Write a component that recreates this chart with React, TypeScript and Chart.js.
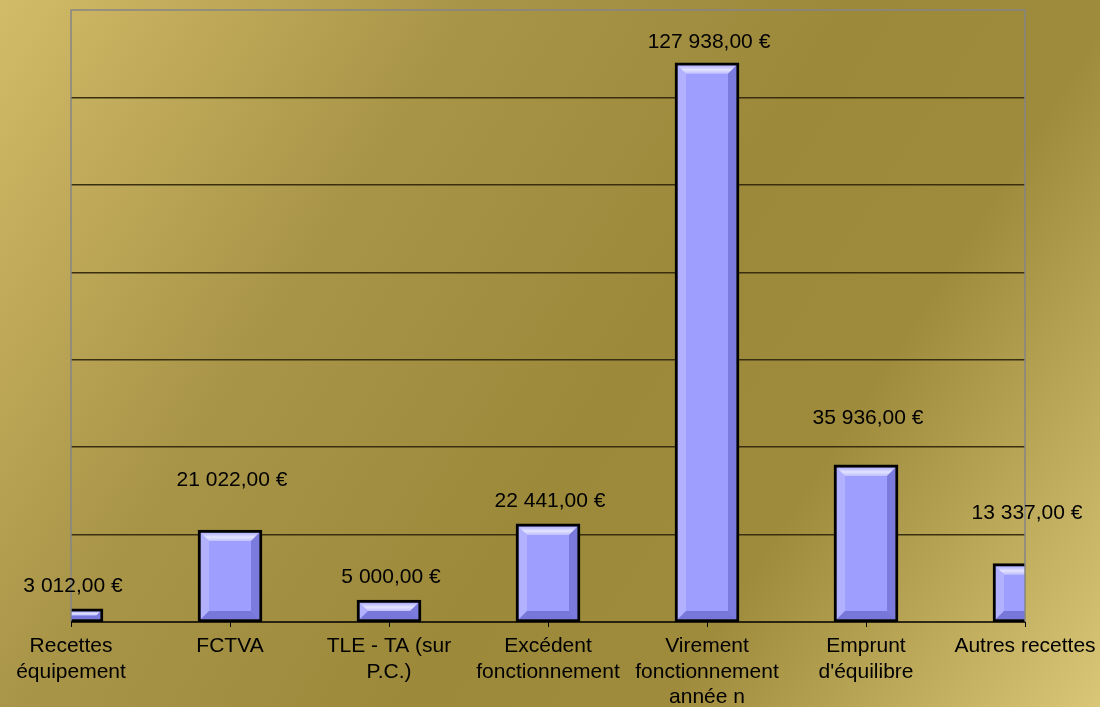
import React, { useEffect, useRef } from "react";
import { Chart, registerables } from "chart.js";

Chart.register(...registerables);

const categories: (string | string[])[] = [
  ["Recettes", "équipement"],
  "FCTVA",
  ["TLE - TA (sur", "P.C.)"],
  ["Excédent", "fonctionnement"],
  ["Virement", "fonctionnement", "année n"],
  ["Emprunt", "d'équilibre"],
  "Autres recettes",
];
const values = [3012, 21022, 5000, 22441, 127938, 35936, 13337];
const yMax = 140000;
const yStep = 20000;
// vertical gap (px) between bar top and its value label, as placed in the original
const labelLift = [23, 50, 23, 23, 21, 47, 50];

const FONT = '"Liberation Sans", Arial, sans-serif';

function formatEuro(v: number): string {
  const [intPart, dec] = v.toFixed(2).split(".");
  const grouped = intPart.replace(/\B(?=(\d{3})+(?!\d))/g, " ");
  return `${grouped},${dec} €`;
}

const backgroundPlugin = {
  id: "bgGradient",
  beforeDraw(chart: any) {
    const { ctx, width, height } = chart;
    ctx.save();
    const g = ctx.createLinearGradient(0, 0, width, height);
    g.addColorStop(0, "#D2BB68");
    g.addColorStop(0.3, "#A99548");
    g.addColorStop(0.55, "#9C893A");
    g.addColorStop(0.72, "#9F8B3C");
    g.addColorStop(1, "#DAC677");
    ctx.fillStyle = g;
    ctx.fillRect(0, 0, width, height);
    ctx.restore();
  },
};

const frameAndBevelPlugin = {
  id: "frameBevel",
  afterDatasetsDraw(chart: any) {
    const { ctx, chartArea } = chart;
    const meta = chart.getDatasetMeta(0);
    ctx.save();
    ctx.beginPath();
    ctx.rect(chartArea.left, chartArea.top, chartArea.right - chartArea.left, chartArea.bottom - chartArea.top + 2);
    ctx.clip();
    const bw = 3;
    const bev = 8;
    meta.data.forEach((bar: any) => {
      const { x, y, base, width } = bar.getProps(["x", "y", "base", "width"], true);
      const l = x - width / 2 + bw;
      const r = x + width / 2 - bw;
      const t = Math.min(y, base) + bw;
      const b = Math.max(y, base) - bw;
      const bv = Math.min(bev, (b - t) / 2, (r - l) / 2);
      // top
      const tg = ctx.createLinearGradient(0, t, 0, t + bv);
      tg.addColorStop(0, "rgba(200,200,255,0.6)");
      tg.addColorStop(0.5, "rgba(240,240,255,0.85)");
      tg.addColorStop(1, "rgba(215,215,255,0.6)");
      ctx.fillStyle = tg;
      ctx.beginPath();
      ctx.moveTo(l, t);
      ctx.lineTo(r, t);
      ctx.lineTo(r - bv, t + bv);
      ctx.lineTo(l + bv, t + bv);
      ctx.closePath();
      ctx.fill();
      // left
      ctx.fillStyle = "rgba(205,205,255,0.4)";
      ctx.beginPath();
      ctx.moveTo(l, t);
      ctx.lineTo(l + bv, t + bv);
      ctx.lineTo(l + bv, b - bv);
      ctx.lineTo(l, b);
      ctx.closePath();
      ctx.fill();
      // right
      ctx.fillStyle = "rgba(70,70,170,0.4)";
      ctx.beginPath();
      ctx.moveTo(r, t);
      ctx.lineTo(r - bv, t + bv);
      ctx.lineTo(r - bv, b - bv);
      ctx.lineTo(r, b);
      ctx.closePath();
      ctx.fill();
      // bottom
      ctx.fillStyle = "rgba(70,70,170,0.45)";
      ctx.beginPath();
      ctx.moveTo(l, b);
      ctx.lineTo(r, b);
      ctx.lineTo(r - bv, b - bv);
      ctx.lineTo(l + bv, b - bv);
      ctx.closePath();
      ctx.fill();
    });
    ctx.restore();

    // plot frame (top, left, right) in grey
    ctx.save();
    ctx.strokeStyle = "#858585";
    ctx.lineWidth = 1.5;
    ctx.beginPath();
    ctx.moveTo(chartArea.left, chartArea.bottom);
    ctx.lineTo(chartArea.left, chartArea.top);
    ctx.lineTo(chartArea.right, chartArea.top);
    ctx.lineTo(chartArea.right, chartArea.bottom);
    ctx.stroke();
    // x axis line
    ctx.strokeStyle = "#000";
    ctx.lineWidth = 1.5;
    ctx.beginPath();
    ctx.moveTo(chartArea.left, chartArea.bottom);
    ctx.lineTo(chartArea.right, chartArea.bottom);
    ctx.stroke();
    ctx.restore();

    // value labels
    const yScale = chart.scales.y;
    ctx.save();
    ctx.fillStyle = "#000";
    ctx.font = `21px ${FONT}`;
    ctx.textAlign = "center";
    ctx.textBaseline = "middle";
    meta.data.forEach((bar: any, i: number) => {
      const v = values[i];
      const py = yScale.getPixelForValue(v) - labelLift[i];
      ctx.fillText(formatEuro(v), bar.x + 2, py);
    });
    ctx.restore();
  },
};

export default function App() {
  const canvasRef = useRef<HTMLCanvasElement | null>(null);

  useEffect(() => {
    document.body.style.margin = "0";
    const canvas = canvasRef.current;
    if (!canvas) return;
    const chart = new Chart(canvas, {
      type: "bar",
      data: {
        labels: categories as any,
        datasets: [
          {
            data: values,
            backgroundColor: "#9E9EFF",
            borderColor: "#000",
            borderWidth: 3,
            borderSkipped: false,
            barThickness: 64,
            clip: 0,
          } as any,
        ],
      },
      options: {
        responsive: false,
        animation: false,
        layout: { padding: { left: 71, right: 75, top: 10, bottom: 0 } },
        plugins: {
          legend: { display: false },
          tooltip: { enabled: false },
        },
        scales: {
          x: {
            type: "category",
            offset: false,
            border: { display: false },
            grid: {
              display: true,
              offset: false,
              drawOnChartArea: false,
              drawTicks: true,
              tickLength: 5,
              color: "#000",
              lineWidth: 1,
            },
            ticks: {
              autoSkip: false,
              maxRotation: 0,
              minRotation: 0,
              padding: 7,
              color: "#000",
              font: { family: FONT, size: 21, lineHeight: 1.2 },
            },
            afterFit(scale: any) {
              scale.height = 85;
              scale.paddingLeft = 0;
              scale.paddingRight = 0;
            },
          },
          y: {
            min: 0,
            max: yMax,
            border: { display: false },
            grid: {
              drawTicks: false,
              lineWidth: (c: any) => (c.tick && (c.tick.value === yMax || c.tick.value === 0) ? 0 : 1.5),
              color: "#3a2e10",
            },
            ticks: { display: false, stepSize: yStep },
            afterFit(scale: any) {
              scale.width = 0;
            },
          },
        },
      },
      plugins: [backgroundPlugin, frameAndBevelPlugin],
    });
    return () => chart.destroy();
  }, []);

  return (
    <div style={{ position: "absolute", left: 0, top: 0, width: 1100, height: 707 }}>
      <canvas ref={canvasRef} width={1100} height={707} />
    </div>
  );
}
